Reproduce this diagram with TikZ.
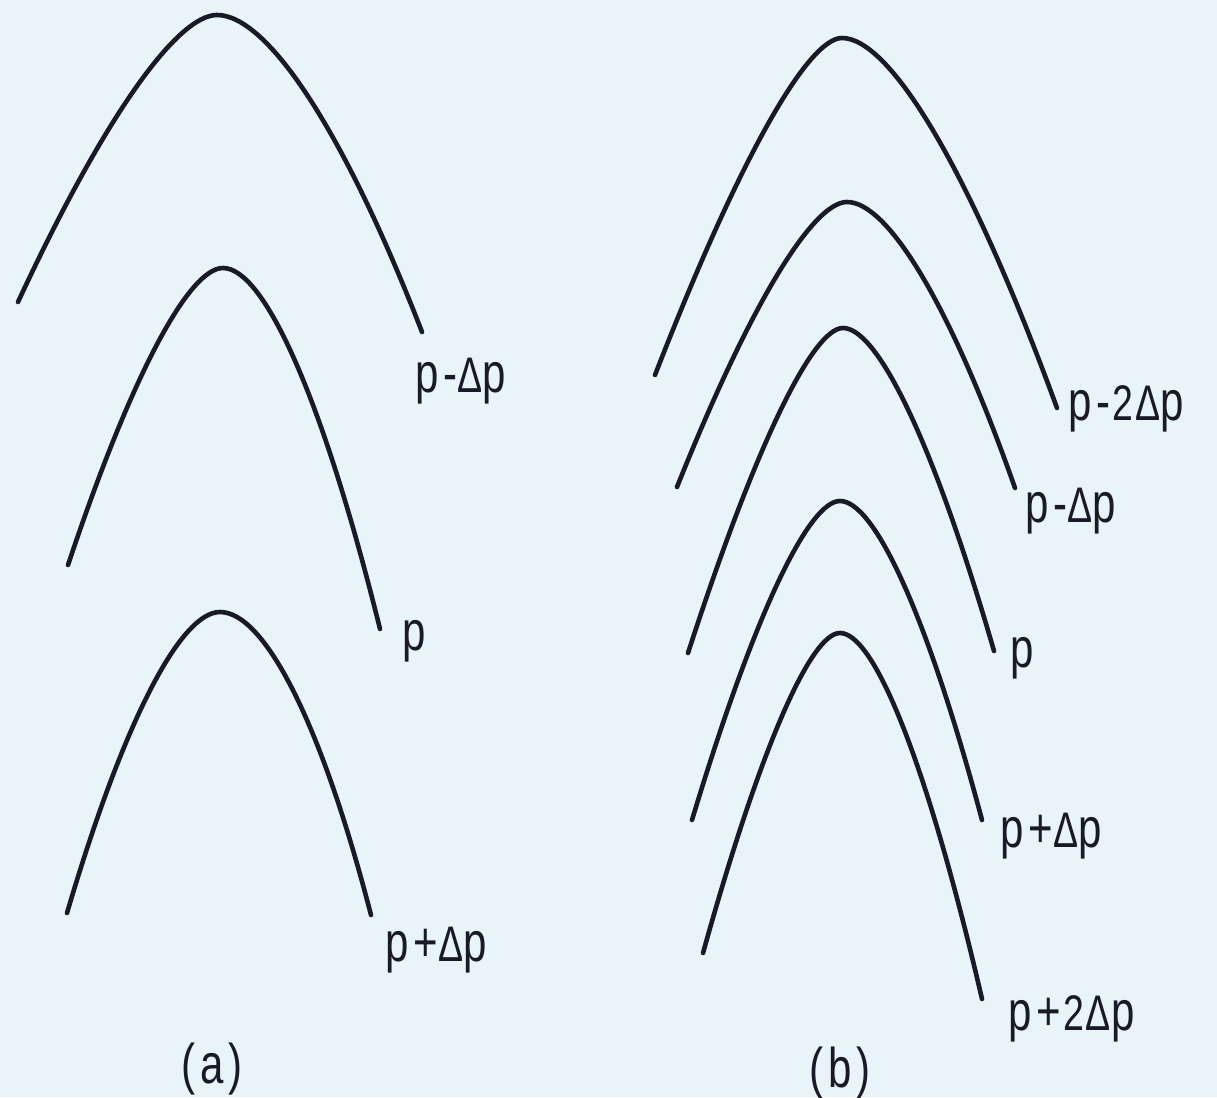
\documentclass[tikz,border=0pt]{standalone}
\usepackage{fontspec}
\usetikzlibrary{calc}
\newfontfamily\labfont[FakeStretch=0.75,LetterSpace=9]{Liberation Sans}
\definecolor{paper}{RGB}{232,244,248}
\definecolor{ink}{RGB}{25,25,40}
\newcommand\dsmall{\fontsize{50}{50}\selectfont}
\newcommand\archcurve[9]{%
  \coordinate (#1L) at (#2,#3);
  \coordinate (#1A) at (#4,#5);
  \coordinate (#1R) at (#6,#7);
  \coordinate (#1KL) at ($(#1A)!#8!(#1A -| #1L)$);
  \coordinate (#1KR) at ($(#1A)!#9!(#1A -| #1R)$);
  \draw[curve] (#1L) .. controls ($(#1L)!0.65!(#1KL)$) and ($(#1A)!0.6!(#1KL)$) .. (#1A)
    .. controls ($(#1A)!0.6!(#1KR)$) and ($(#1R)!0.65!(#1KR)$) .. (#1R);
}
\tikzset{
  curve/.style={draw=ink, line width=4.6pt, line cap=round},
  lab/.style={anchor=base west, inner sep=0pt, text=ink, font=\labfont\fontsize{56}{56}\selectfont},
  figcap/.style={anchor=base, inner sep=0pt, text=ink, font=\labfont\fontsize{56}{56}\selectfont}
}
\begin{document}
\begin{tikzpicture}[x=1pt,y=-1pt]
\fill[paper] (0,0) rectangle (1217,1097);
\useasboundingbox (0,0) rectangle (1217,1097);
% (a)
\archcurve{aa}{18}{302}{217}{15}{422}{332}{0.33}{0.4}
\archcurve{ab}{68}{565}{223}{268}{380}{629}{0.36}{0.43}
\archcurve{ac}{67}{913}{220}{612}{371}{915}{0.42}{0.48}
% (b)
\archcurve{ba}{655}{375}{842}{38}{1057}{408}{0.3}{0.37}
\archcurve{bb}{677}{487}{847}{202}{1015}{488}{0.33}{0.4}
\archcurve{bc}{688}{653}{843}{328}{994}{651}{0.32}{0.38}
\archcurve{bd}{692}{820}{840}{501}{982}{820}{0.35}{0.4}
\archcurve{be}{703}{953}{840}{633}{982}{999}{0.35}{0.4}
% labels
\node[lab] (laa) at (415,392) {p-{\dsmall Δ}p};
\node[lab] (lab) at (402,650) {p};
\node[lab] (lac) at (385,961) {p+{\dsmall Δ}p};
\node[lab] (lba) at (1068,420) {p-\kern2pt{\dsmall 2}\kern2pt{\dsmall Δ}p};
\node[lab] (lbb) at (1025,522) {p-{\dsmall Δ}p};
\node[lab] (lbc) at (1010,667) {p};
\node[lab] (lbd) at (1000,847) {p+{\dsmall Δ}p};
\node[lab] (lbe) at (1008,1030) {p+\kern2pt{\dsmall 2}\kern2pt{\dsmall Δ}p};
\node[figcap] (capa) at (212,1083) {(a)};
\node[figcap] (capb) at (840,1087) {(b)};
\end{tikzpicture}
\end{document}
